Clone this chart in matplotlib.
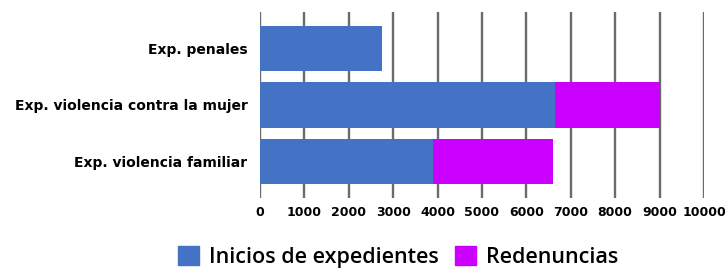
import matplotlib
matplotlib.use("Agg")
import matplotlib.pyplot as plt
from matplotlib.patches import Patch

categories = ["Exp. penales", "Exp. violencia contra la mujer", "Exp. violencia familiar"]
inicios = [2750, 6640, 3900]
redenuncias = [0, 2370, 2690]
xticks = [0, 1000, 2000, 3000, 4000, 5000, 6000, 7000, 8000, 9000, 10000]

BLUE = "#4472C4"
MAGENTA = "#CC00FF"

plt.rcParams['font.family'] = ['DejaVu Sans']

fig = plt.figure(figsize=(7.25, 2.7), dpi=100)
ax = fig.add_axes([0.3586, 0.2667, 0.6124, 0.689])

y = range(len(categories))
ax.barh(y, inicios, height=0.8, color=BLUE, zorder=3)
ax.barh(y, redenuncias, left=inicios, height=0.8, color=MAGENTA, zorder=3)

ax.set_xlim(0, 10000)
ax.set_ylim(2.646, -0.646)
ax.set_xticks(xticks)
ax.set_xticklabels([str(t) for t in xticks], fontsize=9, fontweight='bold')
ax.set_yticks(list(y))
ax.set_yticklabels(categories, fontsize=10, fontweight='bold')
ax.tick_params(axis='y', length=0, pad=9)
ax.tick_params(axis='x', length=0, pad=6)
ax.grid(axis='x', color='#6b6b6b', linewidth=1.7, zorder=0)
for s in ax.spines.values():
    s.set_visible(False)

handles = [Patch(color=BLUE, label="Inicios de expedientes"),
           Patch(color=MAGENTA, label="Redenuncias")]
fig.legend(handles=handles, loc='center', bbox_to_anchor=(398 / 725, 1 - 257 / 270),
           ncol=2, frameon=False, handlelength=1.0, handleheight=0.95,
           handletextpad=0.45, columnspacing=0.75,
           prop={'family': 'Open Sans', 'weight': 'semibold', 'size': 15.5})

fig.savefig("out.png", dpi=100)
